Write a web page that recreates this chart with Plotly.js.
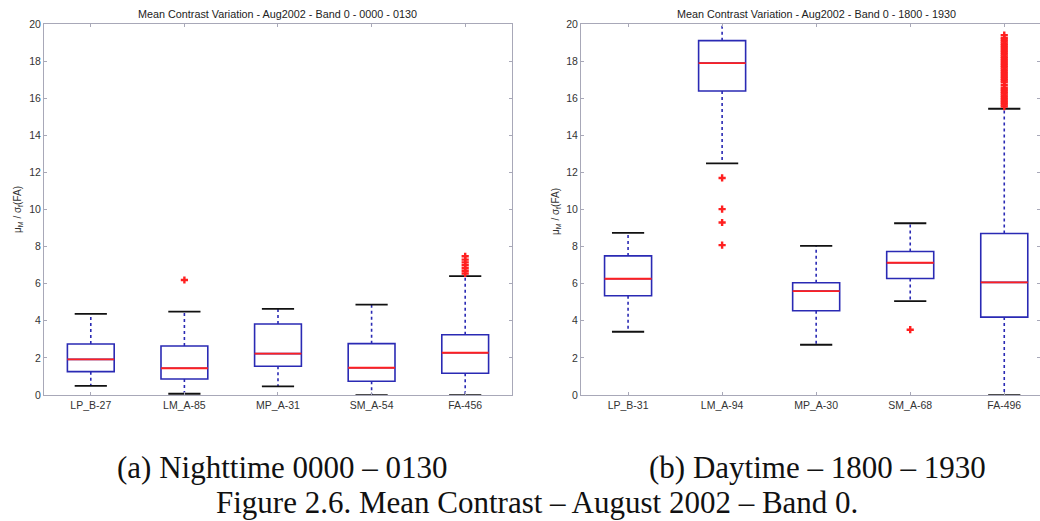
<!DOCTYPE html>
<html>
<head>
<meta charset="utf-8">
<script src="https://cdn.plot.ly/plotly-3.0.1.min.js"></script>
<style>
html,body{margin:0;padding:0;background:#fff;}
#chart{width:1040px;height:521px;}
</style>
</head>
<body>
<div id="chart"></div>
<script>
// ---- Panel (a): Nighttime 0000 - 0130 ----
const cats1   = ['LP_B-27', 'LM_A-85', 'MP_A-31', 'SM_A-54', 'FA-456'];
const lower1  = [0.49, 0.07, 0.47, 0.00, 0.00];
const q1_1    = [1.26, 0.86, 1.55, 0.74, 1.17];
const med1    = [1.92, 1.44, 2.23, 1.47, 2.28];
const q3_1    = [2.75, 2.64, 3.83, 2.77, 3.25];
const upper1  = [4.37, 4.49, 4.64, 4.87, 6.41];
const outX1   = ['LM_A-85', 'FA-456', 'FA-456', 'FA-456', 'FA-456', 'FA-456', 'FA-456', 'FA-456'];
const outY1   = [6.20, 6.55, 6.70, 6.85, 7.00, 7.15, 7.30, 7.48];

// ---- Panel (b): Daytime 1800 - 1930 ----
const cats2   = ['LP_B-31', 'LM_A-94', 'MP_A-30', 'SM_A-68', 'FA-496'];
const lower2  = [3.41, 12.49, 2.71, 5.06, 0.00];
const q1_2    = [5.35, 16.39, 4.54, 6.28, 4.20];
const med2    = [6.27, 17.89, 5.60, 7.13, 6.07];
const q3_2    = [7.50, 19.10, 6.05, 7.74, 8.71];
const upper2  = [8.74, 21.50, 8.04, 9.26, 15.43];
const outX2   = ['LM_A-94', 'LM_A-94', 'LM_A-94', 'LM_A-94', 'SM_A-68',
                 'FA-496','FA-496','FA-496','FA-496','FA-496','FA-496','FA-496','FA-496','FA-496','FA-496',
                 'FA-496','FA-496','FA-496','FA-496','FA-496','FA-496','FA-496','FA-496','FA-496','FA-496',
                 'FA-496','FA-496','FA-496','FA-496','FA-496','FA-496','FA-496','FA-496','FA-496','FA-496',
                 'FA-496','FA-496','FA-496','FA-496','FA-496','FA-496','FA-496','FA-496'];
const outY2   = [11.70, 10.02, 9.30, 8.08, 3.52,
                 15.55, 15.65, 15.75, 15.85, 15.95, 16.05, 16.15, 16.25, 16.35, 16.45,
                 16.55, 16.70, 16.85, 16.95, 17.05, 17.15, 17.25, 17.35, 17.45, 17.55,
                 17.65, 17.75, 17.85, 17.95, 18.05, 18.15, 18.25, 18.35, 18.45, 18.55,
                 18.65, 18.75, 18.85, 18.95, 19.05, 19.15, 19.25, 19.40];

const BLUE = '#2a2ab4';
const RED = '#ff2020';

function panelTraces(cats, lower, q1, med, q3, upper, outX, outY, xa, ya) {
  const wx = [], wy = [];
  cats.forEach((c, i) => {
    wx.push(c, c, null, c, c, null);
    wy.push(q3[i], upper[i], null, q1[i], lower[i], null);
  });
  const capX = cats.concat(cats);
  const capY = upper.concat(lower);
  return [
    {type: 'scatter', mode: 'lines', x: wx, y: wy, xaxis: xa, yaxis: ya,
     line: {color: BLUE, width: 1.6, dash: '3px,3px'}, hoverinfo: 'skip', showlegend: false, cliponaxis: true},
    {type: 'box', x: cats, q1: q1, median: med, q3: q3, lowerfence: q1, upperfence: q3,
     xaxis: xa, yaxis: ya, width: 0.5, boxpoints: false, whiskerwidth: 0,
     line: {color: BLUE, width: 1.6}, fillcolor: 'rgba(0,0,0,0)', hoverinfo: 'skip', showlegend: false},
    // red median line drawn over the box
    {type: 'box', x: cats, q1: med, median: med, q3: med, lowerfence: med, upperfence: med,
     xaxis: xa, yaxis: ya, width: 0.5, boxpoints: false, whiskerwidth: 0,
     line: {color: RED, width: 1.9}, fillcolor: 'rgba(0,0,0,0)', hoverinfo: 'skip', showlegend: false},
    {type: 'scatter', mode: 'markers', x: capX, y: capY, xaxis: xa, yaxis: ya,
     marker: {symbol: 'line-ew', size: 23, line: {color: '#111', width: 1.8}},
     hoverinfo: 'skip', showlegend: false, cliponaxis: true},
    {type: 'scatter', mode: 'markers', x: outX, y: outY, xaxis: xa, yaxis: ya,
     marker: {symbol: 'cross', size: 6, color: RED, line: {width: 0}},
     hoverinfo: 'skip', showlegend: false, cliponaxis: true}
  ];
}

const data = [].concat(
  panelTraces(cats1, lower1, q1_1, med1, q3_1, upper1, outX1, outY1, 'x', 'y'),
  panelTraces(cats2, lower2, q1_2, med2, q3_2, upper2, outX2, outY2, 'x2', 'y2')
);

const SANS = 'Arial, Liberation Sans, sans-serif';
const SERIF = 'Liberation Serif, Times New Roman, serif';
const tickFont = {family: SANS, size: 10.5, color: '#333'};
const lineCol = '#a8a8b8';
function yAx(anchor) {
  return {anchor: anchor, domain: [0.2418, 0.954], range: [0, 20], dtick: 2, tick0: 0,
    ticks: 'inside', ticklen: 3, tickcolor: lineCol, showline: true, linecolor: lineCol, linewidth: 1,
    mirror: 'ticks', showgrid: false, zeroline: false, tickfont: tickFont, fixedrange: true};
}
function xAx(anchor, domain, range) {
  return {anchor: anchor, domain: domain, type: 'category', range: range,
    ticks: 'inside', ticklen: 3, tickcolor: lineCol, showline: true, linecolor: lineCol, linewidth: 1,
    mirror: 'ticks', showgrid: false, zeroline: false, tickfont: tickFont, fixedrange: true};
}

function ann(o) { return Object.assign({showarrow: false, xanchor: 'center', yanchor: 'middle'}, o); }

const layout = {
  width: 1040, height: 521,
  margin: {l: 0, r: 0, t: 0, b: 0},
  paper_bgcolor: '#ffffff', plot_bgcolor: '#ffffff',
  boxmode: 'overlay',
  showlegend: false,
  xaxis: xAx('y', [0.0423, 0.4923], [-0.5, 4.5]),
  yaxis: yAx('x'),
  xaxis2: xAx('y2', [0.5587, 1.0], [-0.5, 4.38]),
  yaxis2: yAx('x2'),
  annotations: [
    ann({xref: 'x', yref: 'paper', x: 2, y: (521-14)/521, text: 'Mean Contrast Variation - Aug2002 - Band 0 - 0000 - 0130',
     font: {family: SANS, size: 10.8, color: '#222'}}),
    ann({xref: 'x2', yref: 'paper', x: 2, y: (521-14)/521, text: 'Mean Contrast Variation - Aug2002 - Band 0 - 1800 - 1930',
     font: {family: SANS, size: 10.8, color: '#222'}}),
    ann({xref: 'paper', yref: 'paper', x: 18/1040, y: (521-210)/521, textangle: -90,
     text: 'μ<sub>M</sub> / σ<sub>f</sub>(FA)', font: {family: SANS, size: 10, color: '#333'}}),
    ann({xref: 'paper', yref: 'paper', x: 556/1040, y: (521-212)/521, textangle: -90,
     text: 'μ<sub>M</sub> / σ<sub>f</sub>(FA)', font: {family: SANS, size: 10, color: '#333'}}),
    ann({xref: 'paper', yref: 'paper', x: 282/1040, y: (521-467)/521, text: '(a) Nighttime 0000 – 0130',
     font: {family: SERIF, size: 31, color: '#111'}}),
    ann({xref: 'paper', yref: 'paper', x: 817/1040, y: (521-467)/521, text: '(b) Daytime – 1800 – 1930',
     font: {family: SERIF, size: 31, color: '#111'}}),
    ann({xref: 'paper', yref: 'paper', x: 537/1040, y: (521-502)/521, text: 'Figure 2.6. Mean Contrast – August 2002 – Band 0.',
     font: {family: SERIF, size: 31, color: '#111'}})
  ]
};

Plotly.newPlot('chart', data, layout, {staticPlot: true, displayModeBar: false});
</script>
</body>
</html>
